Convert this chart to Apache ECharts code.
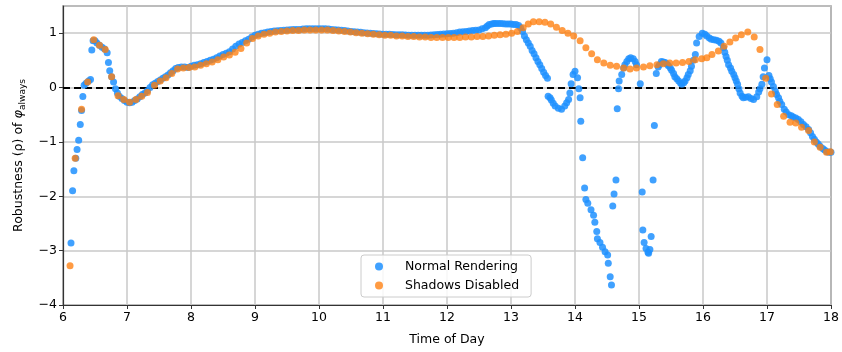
<!DOCTYPE html>
<html>
<head>
<meta charset="utf-8">
<script src="https://cdn.jsdelivr.net/npm/echarts@6/dist/echarts.min.js"></script>
<style>
  html, body { margin: 0; padding: 0; background: #fff; }
  #main { width: 842px; height: 352px; }
</style>
</head>
<body>
<div id="main"></div>
<script>
// [time of day, robustness]
var normalRendering = [
  [6.125,-2.86],[6.15,-1.90],[6.17,-1.53],[6.20,-1.30],[6.22,-1.14],[6.245,-0.97],[6.27,-0.68],[6.29,-0.42],
  [6.31,-0.165],[6.33,0.04],[6.36,0.08],[6.40,0.12],[6.43,0.15],[6.45,0.69],[6.47,0.86],[6.50,0.86],
  [6.53,0.82],[6.57,0.78],[6.61,0.74],[6.65,0.71],[6.69,0.64],[6.71,0.46],[6.73,0.31],[6.76,0.20],
  [6.79,0.10],[6.82,-0.02],[6.85,-0.10],[6.88,-0.16],[6.92,-0.20],[6.96,-0.24],[7.00,-0.27],[7.04,-0.28],
  [7.08,-0.27],[7.12,-0.24],[7.16,-0.21],[7.20,-0.17],[7.24,-0.13],[7.28,-0.10],[7.32,-0.06],[7.36,0.00],
  [7.40,0.05],[7.44,0.08],[7.48,0.11],[7.52,0.14],[7.56,0.17],[7.60,0.20],[7.64,0.23],[7.68,0.27],
  [7.72,0.31],[7.76,0.35],[7.80,0.37],[7.85,0.38],[7.90,0.38],[7.95,0.37],[8.00,0.39],[8.05,0.41],
  [8.10,0.42],[8.15,0.44],[8.20,0.46],[8.25,0.48],[8.30,0.50],[8.35,0.52],[8.40,0.55],[8.45,0.58],
  [8.50,0.61],[8.55,0.63],[8.60,0.66],[8.65,0.71],[8.70,0.76],[8.75,0.80],[8.80,0.83],[8.85,0.86],
  [8.90,0.89],[8.95,0.93],[9.00,0.96],[9.05,0.98],[9.10,1.00],[9.15,1.01],[9.20,1.02],[9.25,1.03],
  [9.30,1.04],[9.35,1.045],[9.40,1.05],[9.45,1.055],[9.50,1.06],[9.55,1.065],[9.60,1.07],[9.65,1.07],
  [9.70,1.07],[9.75,1.075],[9.80,1.08],[9.85,1.08],[9.90,1.08],[9.95,1.08],[10.00,1.08],[10.05,1.08],
  [10.10,1.08],[10.15,1.075],[10.20,1.07],[10.25,1.065],[10.30,1.06],[10.35,1.055],[10.40,1.05],[10.45,1.04],
  [10.50,1.03],[10.55,1.025],[10.60,1.02],[10.65,1.015],[10.70,1.01],[10.75,1.005],[10.80,1.00],[10.85,0.995],
  [10.90,0.99],[10.95,0.985],[11.00,0.98],[11.05,0.98],[11.10,0.98],[11.15,0.975],[11.20,0.97],[11.25,0.97],
  [11.30,0.97],[11.35,0.965],[11.40,0.96],[11.45,0.96],[11.50,0.96],[11.55,0.96],[11.60,0.96],[11.65,0.96],
  [11.70,0.96],[11.75,0.965],[11.80,0.97],[11.85,0.975],[11.90,0.98],[11.95,0.985],[12.00,0.99],[12.05,0.995],
  [12.10,1.00],[12.15,1.01],[12.20,1.02],[12.25,1.025],[12.30,1.03],[12.35,1.04],[12.40,1.05],[12.45,1.055],
  [12.50,1.06],[12.55,1.08],[12.60,1.10],[12.63,1.13],[12.66,1.16],[12.70,1.17],[12.73,1.18],[12.76,1.18],
  [12.80,1.18],[12.84,1.18],[12.88,1.175],[12.92,1.17],[12.96,1.17],[13.00,1.17],[13.04,1.16],[13.08,1.16],
  [13.12,1.14],[13.15,1.10],[13.18,1.03],[13.21,0.95],[13.24,0.88],[13.27,0.82],[13.30,0.76],[13.33,0.68],
  [13.36,0.62],[13.39,0.55],[13.42,0.48],[13.45,0.42],[13.48,0.35],[13.51,0.28],[13.54,0.22],[13.57,0.17],
  [13.58,-0.16],[13.61,-0.19],[13.63,-0.23],[13.66,-0.29],[13.69,-0.34],[13.74,-0.38],[13.79,-0.40],[13.84,-0.34],
  [13.87,-0.28],[13.90,-0.22],[13.92,-0.10],[13.94,0.07],[13.97,0.24],[14.00,0.30],[14.04,0.18],[14.06,-0.02],
  [14.08,-0.19],[14.09,-0.62],[14.12,-1.29],[14.15,-1.85],[14.17,-2.06],[14.20,-2.13],[14.25,-2.25],[14.29,-2.35],
  [14.31,-2.48],[14.34,-2.65],[14.35,-2.78],[14.39,-2.85],[14.43,-2.94],[14.47,-3.02],[14.51,-3.08],[14.52,-3.23],
  [14.55,-3.48],[14.57,-3.63],[14.59,-2.18],[14.61,-1.96],[14.64,-1.70],[14.66,-0.39],[14.68,-0.02],[14.69,0.12],
  [14.73,0.24],[14.76,0.36],[14.78,0.42],[14.81,0.48],[14.84,0.53],[14.87,0.55],[14.91,0.53],[14.94,0.48],
  [14.96,0.42],[15.02,0.07],[15.05,-1.92],[15.06,-2.62],[15.08,-2.85],[15.11,-2.96],[15.14,-3.03],[15.15,-3.05],
  [15.17,-2.98],[15.19,-2.74],[15.22,-1.70],[15.24,-0.70],[15.27,0.26],[15.30,0.38],[15.32,0.42],[15.35,0.48],
  [15.38,0.47],[15.41,0.46],[15.44,0.43],[15.46,0.40],[15.49,0.36],[15.51,0.32],[15.54,0.26],[15.56,0.20],
  [15.59,0.16],[15.62,0.12],[15.65,0.08],[15.67,0.06],[15.70,0.09],[15.72,0.12],[15.75,0.18],[15.77,0.24],
  [15.80,0.31],[15.82,0.39],[15.85,0.50],[15.88,0.61],[15.90,0.82],[15.94,0.94],[15.99,1.00],[16.03,0.98],
  [16.06,0.95],[16.10,0.91],[16.13,0.89],[16.17,0.88],[16.21,0.87],[16.25,0.85],[16.28,0.82],[16.32,0.73],
  [16.34,0.65],[16.36,0.57],[16.38,0.50],[16.40,0.42],[16.43,0.36],[16.45,0.30],[16.48,0.24],[16.50,0.18],
  [16.52,0.12],[16.54,0.06],[16.56,-0.02],[16.58,-0.10],[16.61,-0.16],[16.63,-0.19],[16.67,-0.18],[16.71,-0.17],
  [16.75,-0.20],[16.79,-0.22],[16.84,-0.17],[16.87,-0.08],[16.89,-0.02],[16.92,0.06],[16.94,0.20],[16.96,0.36],
  [17.00,0.51],[17.03,0.22],[17.05,0.16],[17.07,0.10],[17.10,0.02],[17.13,-0.07],[17.15,-0.13],[17.18,-0.19],
  [17.20,-0.25],[17.23,-0.31],[17.27,-0.40],[17.30,-0.45],[17.34,-0.50],[17.38,-0.52],[17.41,-0.54],[17.45,-0.56],
  [17.49,-0.59],[17.53,-0.63],[17.57,-0.68],[17.61,-0.72],[17.65,-0.77],[17.68,-0.83],[17.71,-0.90],[17.74,-0.95],
  [17.77,-1.00],[17.80,-1.04],[17.83,-1.08],[17.87,-1.12],[17.90,-1.15],[17.94,-1.18],[17.97,-1.19],[18.00,-1.19]
];

var shadowsDisabled = [
  [6.11,-3.28],[6.19,-1.30],[6.29,-0.40],[6.385,0.10],[6.48,0.88],[6.57,0.78],[6.66,0.70],[6.76,0.20],
  [6.86,-0.15],[6.95,-0.22],[7.04,-0.27],[7.14,-0.22],[7.23,-0.16],[7.32,-0.09],[7.43,0.04],[7.52,0.12],
  [7.61,0.18],[7.70,0.26],[7.79,0.34],[7.88,0.36],[7.97,0.37],[8.06,0.38],[8.15,0.41],[8.24,0.44],
  [8.33,0.47],[8.42,0.51],[8.51,0.56],[8.60,0.60],[8.69,0.65],[8.78,0.72],[8.87,0.82],[8.96,0.90],
  [9.05,0.95],[9.14,0.98],[9.23,1.00],[9.32,1.02],[9.41,1.03],[9.50,1.04],[9.59,1.05],[9.68,1.05],
  [9.77,1.06],[9.86,1.06],[9.95,1.06],[10.04,1.06],[10.13,1.06],[10.22,1.05],[10.31,1.04],[10.40,1.03],
  [10.49,1.02],[10.58,1.01],[10.67,1.00],[10.76,0.99],[10.85,0.98],[10.94,0.97],[11.03,0.96],[11.12,0.96],
  [11.21,0.95],[11.30,0.95],[11.39,0.94],[11.48,0.94],[11.57,0.93],[11.66,0.93],[11.75,0.92],[11.84,0.92],
  [11.93,0.92],[12.02,0.92],[12.11,0.92],[12.20,0.92],[12.29,0.93],[12.38,0.93],[12.47,0.94],[12.56,0.94],
  [12.65,0.95],[12.74,0.96],[12.83,0.97],[12.92,0.98],[13.01,1.00],[13.10,1.03],[13.19,1.10],[13.27,1.17],
  [13.35,1.21],[13.44,1.21],[13.53,1.20],[13.62,1.17],[13.71,1.11],[13.80,1.05],[13.89,1.00],[13.98,0.95],
  [14.08,0.86],[14.17,0.73],[14.26,0.62],[14.35,0.51],[14.45,0.45],[14.55,0.41],[14.65,0.39],[14.76,0.36],
  [14.86,0.34],[14.96,0.36],[15.07,0.38],[15.17,0.40],[15.28,0.42],[15.38,0.44],[15.48,0.45],[15.58,0.45],
  [15.68,0.46],[15.78,0.48],[15.88,0.51],[15.98,0.53],[16.06,0.55],[16.14,0.61],[16.24,0.67],[16.33,0.76],
  [16.42,0.84],[16.51,0.91],[16.60,0.97],[16.70,1.02],[16.80,0.93],[16.89,0.70],[16.98,0.17],[17.07,-0.12],
  [17.16,-0.31],[17.26,-0.53],[17.36,-0.64],[17.45,-0.65],[17.54,-0.73],[17.65,-0.79],[17.74,-1.00],[17.83,-1.10],
  [17.93,-1.19],[17.99,-1.18]
];

var seriesNames = ['Normal Rendering', 'Shadows Disabled'];
var xTicks = { min: 6, max: 18, step: 1 };
var yTicks = { min: -4, max: 1.5, step: 1 };
var zeroLevel = 0;

var font = 'DejaVu Sans';
function minus(v) { return String(v).replace('-', '\u2212'); }

var chart = echarts.init(document.getElementById('main'), null, { renderer: 'canvas' });

var option = {
  animation: false,
  backgroundColor: '#fff',
  grid: {
    left: 63, right: 11, top: 6, bottom: 47,
    show: true, borderColor: '#333', borderWidth: 1.2, backgroundColor: 'transparent'
  },
  legend: {
    orient: 'vertical',
    left: 361, top: 255,
    padding: [5, 12, 5, 14],
    itemGap: 6,
    itemWidth: 8, itemHeight: 8,
    icon: 'circle',
    backgroundColor: 'rgba(255,255,255,0.85)',
    borderColor: '#cccccc', borderWidth: 1, borderRadius: 3,
    data: seriesNames,
    formatter: function (name) { return '{t|' + name + '}'; },
    textStyle: {
      fontFamily: font, fontSize: 12.5, color: '#000',
      rich: { t: { fontFamily: font, fontSize: 12.5, color: '#000', padding: [0, 0, 0, 17] } }
    }
  },
  xAxis: {
    type: 'value',
    min: xTicks.min, max: xTicks.max, interval: xTicks.step,
    name: 'Time of Day',
    nameLocation: 'middle',
    nameGap: 28,
    nameTextStyle: { fontFamily: font, fontSize: 12.5, color: '#000' },
    axisLine: { show: true, onZero: false, lineStyle: { color: '#333', width: 1.2 } },
    axisTick: { show: true, length: 4, lineStyle: { color: '#333' } },
    axisLabel: { fontFamily: font, fontSize: 12.5, color: '#000', margin: 6, formatter: minus },
    splitLine: { show: true, lineStyle: { color: '#c8c8c8', width: 1.5 } }
  },
  yAxis: {
    type: 'value',
    min: yTicks.min, max: yTicks.max, interval: yTicks.step,
    name: 'Robustness (\u03c1) of {phi|\u03c6}{sub|always}',
    nameLocation: 'middle',
    nameRotate: 90,
    nameGap: 36,
    nameTextStyle: {
      fontFamily: font, fontSize: 12.5, color: '#000',
      rich: {
        phi: { fontFamily: font, fontSize: 13, fontStyle: 'italic', color: '#000' },
        sub: { fontFamily: font, fontSize: 9, color: '#000', padding: [7, 0, 0, 0] }
      }
    },
    axisLine: { show: true, onZero: false, lineStyle: { color: '#333', width: 1.2 } },
    axisTick: { show: true, length: 4, lineStyle: { color: '#333' } },
    axisLabel: {
      fontFamily: font, fontSize: 12.5, color: '#000', margin: 6,
      showMaxLabel: false,
      formatter: function (v) { return Number.isInteger(v) ? minus(v) : ''; }
    },
    splitLine: { show: true, lineStyle: { color: '#c8c8c8', width: 1.5 } }
  },
  series: [
    {
      name: seriesNames[0],
      type: 'scatter',
      data: normalRendering,
      symbolSize: 7,
      itemStyle: { color: '#1E90FF', opacity: 0.85 },
      z: 3,
      markLine: {
        silent: true,
        symbol: ['none', 'none'],
        label: { show: false },
        lineStyle: { color: '#000', type: [7, 4], width: 1.8 },
        data: [{ yAxis: zeroLevel }],
        z: 1
      }
    },
    {
      name: seriesNames[1],
      type: 'scatter',
      data: shadowsDisabled,
      symbolSize: 7,
      itemStyle: { color: '#ff7f0e', opacity: 0.78 },
      z: 4
    }
  ]
};

chart.setOption(option);
</script>
</body>
</html>
